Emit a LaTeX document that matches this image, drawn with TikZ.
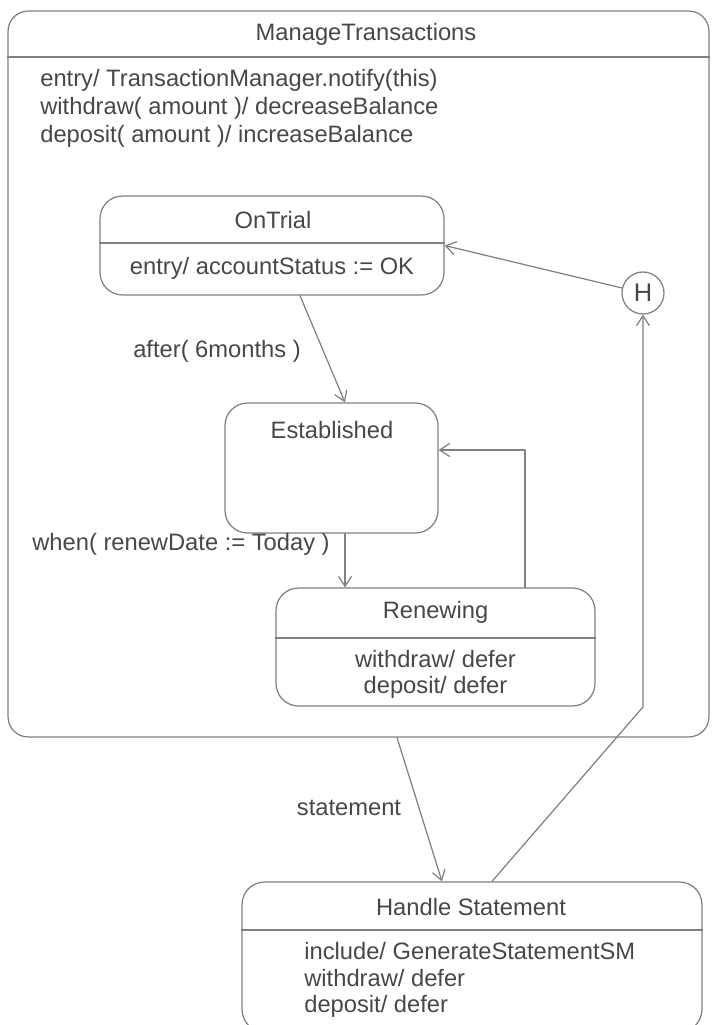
\documentclass[tikz,border=0pt]{standalone}
\usepackage{fontspec}
\setmainfont{Liberation Sans}
\usepackage{xcolor}
\usetikzlibrary{arrows.meta,positioning}
\definecolor{umlline}{gray}{0.5}
\definecolor{umltext}{gray}{0.28}

\begin{document}
\begin{tikzpicture}[
  x=0.02cm, y=-0.02cm,
  line cap=round,
  line join=round,
  >={Straight Barb[length=2mm,width=2.6mm]},
  statebox/.style={draw=umlline,line width=0.7pt,rounded corners=0.45cm,inner sep=0pt},
  divider/.style={umlline,line width=0.7pt},
  trans/.style={umlline,line width=0.7pt,->},
  statename/.style={text=umltext,font=\fontsize{13.5}{16}\selectfont},
  actions/.style={text=umltext,font=\fontsize{13.5}{15.9}\selectfont,inner sep=0pt},
  translabel/.style={text=umltext,font=\fontsize{13.5}{16}\selectfont},
  history/.style={circle,draw=umlline,line width=0.7pt,minimum size=0.84cm,inner sep=0pt,
    text=umltext,font=\fontsize{14.5}{16}\selectfont}
]
\useasboundingbox (0,0) rectangle (712,1025);
\clip (0,0) rectangle (712,1025);

% composite state
\node[statebox,rounded corners=0.4cm,minimum width=14.02cm,minimum height=14.52cm]
  (mt) at (358.5,374) {};
\draw[divider] (mt.west |- 0,57) -- (mt.east |- 0,57);
\node[statename] (mttitle) at (366,34) {ManageTransactions};
\node[actions,anchor=west,align=left] (mtacts) at (40,108)
  {entry/ TransactionManager.notify(this)\\
   withdraw( amount )/ decreaseBalance\\
   deposit( amount )/ increaseBalance};

% substates
\node[statebox,minimum width=6.88cm,minimum height=1.98cm] (ontrial) at (272,245.5) {};
\draw[divider] (ontrial.west |- 0,243) -- (ontrial.east |- 0,243);
\node[statename] (ontrialname) at (273,220) {OnTrial};
\node[actions] (ontrialacts) at (272,268) {entry/ accountStatus := OK};

\node[statebox,minimum width=4.26cm,minimum height=2.6cm] (established) at (331.5,468) {};
\node[statename] (establishedname) at (332,430) {Established};

\node[statebox,minimum width=6.38cm,minimum height=2.36cm] (renewing) at (435.5,647) {};
\draw[divider] (renewing.west |- 0,638) -- (renewing.east |- 0,638);
\node[statename] (renewingname) at (435.5,612) {Renewing};
\node[actions,align=center,font=\fontsize{13.5}{14.8}\selectfont] (renewingacts) at (435.5,674)
  {withdraw/ defer\\deposit/ defer};

\node[history] (hist) at (643,293) {H};

% outside state
\node[statebox,minimum width=9.2cm,minimum height=3.0cm] (handle) at (472,957) {};
\draw[divider] (handle.west |- 0,930) -- (handle.east |- 0,930);
\node[statename] (handlename) at (471,907) {Handle Statement};
\node[actions,anchor=west,align=left,font=\fontsize{13.5}{15}\selectfont] (handleacts) at (304,980)
  {include/ GenerateStatementSM\\
   withdraw/ defer\\
   deposit/ defer};

% transitions
\draw[trans] (hist) -- (ontrial.east);
\draw[trans] ([xshift=0.56cm]ontrial.south) -- ([xshift=0.27cm]established.north);
\node[translabel] (afterlbl) at (217,351) {after( 6months )};
\draw[trans] ([xshift=0.27cm]established.south) coordinate (estout)
  -- (estout |- renewing.north);
\node[translabel] (whenlbl) at (181,544) {when( renewDate := Today )};
\draw[trans] ([xshift=1.79cm]renewing.north) |- ([yshift=0.36cm]established.east);
\draw[trans] ([xshift=0.77cm]mt.south) -- ([xshift=-0.6cm]handle.north);
\node[translabel] (stmtlbl) at (349,808) {statement};
\coordinate (bend) at (643,707);
\draw[trans] ([xshift=0.4cm]handle.north) -- (bend) -- (hist);
\end{tikzpicture}
\end{document}
